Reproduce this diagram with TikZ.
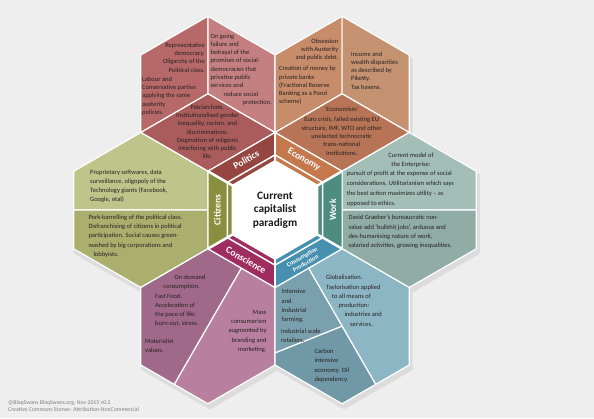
\documentclass[tikz,border=0pt]{standalone}
\usepackage{fontspec}
\setmainfont{Carlito}
\usetikzlibrary{calc}
\definecolor{bgc}{RGB}{238,238,238}
\definecolor{shadowc}{RGB}{220,220,220}
\definecolor{txtc}{RGB}{40,34,34}
\definecolor{polA}{RGB}{183,104,104}
\definecolor{polB}{RGB}{196,128,128}
\definecolor{polC}{RGB}{170,92,92}
\definecolor{polband}{RGB}{150,70,64}
\definecolor{ecoA}{RGB}{199,140,105}
\definecolor{ecoB}{RGB}{196,146,112}
\definecolor{ecoC}{RGB}{183,116,86}
\definecolor{ecoband}{RGB}{196,120,76}
\definecolor{citA}{RGB}{190,196,138}
\definecolor{citB}{RGB}{170,175,110}
\definecolor{citband}{RGB}{137,143,62}
\definecolor{workA}{RGB}{162,190,182}
\definecolor{workB}{RGB}{143,173,165}
\definecolor{workband}{RGB}{78,140,128}
\definecolor{prodA}{RGB}{123,160,173}
\definecolor{prodB}{RGB}{141,182,196}
\definecolor{prodC}{RGB}{112,152,166}
\definecolor{prodband}{RGB}{72,144,175}
\definecolor{conA}{RGB}{160,105,138}
\definecolor{conB}{RGB}{184,128,158}
\definecolor{conband}{RGB}{160,45,95}
\newcommand\mkhex[3]{%
  \coordinate (#1) at (#2,#3);
  \coordinate (#1-t) at (#2,#3-77.5);
  \coordinate (#1-ur) at (#2+67.1,#3-38.75);
  \coordinate (#1-lr) at (#2+67.1,#3+38.75);
  \coordinate (#1-b) at (#2,#3+77.5);
  \coordinate (#1-ll) at (#2-67.1,#3+38.75);
  \coordinate (#1-ul) at (#2-67.1,#3-38.75);
  \coordinate (#1-l) at (#2-67.1,#3);
  \coordinate (#1-r) at (#2+67.1,#3);
}
\newcommand\hexR[3]{(#1,#2-#3) -- (#1+0.8660254*#3,#2-0.5*#3) -- (#1+0.8660254*#3,#2+0.5*#3) -- (#1,#2+#3) -- (#1-0.8660254*#3,#2+0.5*#3) -- (#1-0.8660254*#3,#2-0.5*#3) -- cycle}
\tikzset{
  region/.style={draw=white, line width=1.2pt, line join=round},
  shadowhex/.style={fill=shadowc, draw=shadowc, line width=3pt, line join=round},
  body/.style={font=\fontsize{6.5}{8.3}\selectfont, text=txtc, inner sep=0pt},
  bodyw/.style={font=\fontsize{6.5}{9.3}\selectfont, text=txtc, inner sep=0pt},
  bandlabel/.style={font=\fontsize{9.6}{10}\selectfont\bfseries, text=white, inner sep=0pt},
}
\begin{document}
\begin{tikzpicture}[x=1pt,y=-1pt]
\fill[bgc] (0,0) rectangle (594,418);
\useasboundingbox (0,0) rectangle (594,418);
\mkhex{C0}{275}{210}
\mkhex{P}{207.9}{93.75}
\mkhex{E}{342.1}{93.75}
\mkhex{W}{409.2}{210}
\mkhex{Pr}{342.1}{326.25}
\mkhex{Co}{207.9}{326.25}
\mkhex{Ci}{140.8}{210}
% shadows
\begin{scope}[shift={(2,4)}]
\path[shadowhex] \hexR{207.9}{93.75}{77.5};
\path[shadowhex] \hexR{342.1}{93.75}{77.5};
\path[shadowhex] \hexR{409.2}{210}{77.5};
\path[shadowhex] \hexR{342.1}{326.25}{77.5};
\path[shadowhex] \hexR{207.9}{326.25}{77.5};
\path[shadowhex] \hexR{140.8}{210}{77.5};
\end{scope}
% Politics
\path[region, fill=polA] (P-t) -- (P) -- (P-ll) -- (P-ul) -- cycle;
\path[region, fill=polB] (P-t) -- (P-ur) -- (P-lr) -- (P) -- cycle;
\path[region, fill=polC] (P) -- (P-lr) -- (P-b) -- (P-ll) -- cycle;
% Economy
\path[region, fill=ecoA] (E-t) -- (E) -- (E-ll) -- (E-ul) -- cycle;
\path[region, fill=ecoB] (E-t) -- (E-ur) -- (E-lr) -- (E) -- cycle;
\path[region, fill=ecoC] (E) -- (E-lr) -- (E-b) -- (E-ll) -- cycle;
% Citizens
\path[region, fill=citA] (Ci-l) -- (Ci-ul) -- (Ci-t) -- (Ci-ur) -- (Ci-r) -- cycle;
\path[region, fill=citB] (Ci-l) -- (Ci-r) -- (Ci-lr) -- (Ci-b) -- (Ci-ll) -- cycle;
% Work
\path[region, fill=workA] (W-l) -- (W-ul) -- (W-t) -- (W-ur) -- (W-r) -- cycle;
\path[region, fill=workB] (W-l) -- (W-r) -- (W-lr) -- (W-b) -- (W-ll) -- cycle;
% Conscience
\coordinate (Co-m1) at ($(Co-t)!0.5!(Co-ur)$);
\coordinate (Co-m2) at ($(Co-ll)!0.5!(Co-b)$);
\path[region, fill=conA] (Co-m1) -- (Co-t) -- (Co-ul) -- (Co-ll) -- (Co-m2) -- cycle;
\path[region, fill=conB] (Co-m1) -- (Co-ur) -- (Co-lr) -- (Co-b) -- (Co-m2) -- cycle;
% Production
\coordinate (Pr-m1) at ($(Pr-ul)!0.5!(Pr-t)$);
\coordinate (Pr-m2) at ($(Pr-lr)!0.5!(Pr-b)$);
\coordinate (Pr-q) at (275,353);
\path[region, fill=prodB] (Pr-m1) -- (Pr-t) -- (Pr-ur) -- (Pr-lr) -- (Pr-m2) -- cycle;
\path[region, fill=prodA] (Pr-m1) -- (Pr-ul) -- (Pr-q) -- (Pr) -- cycle;
\path[region, fill=prodC] (Pr-q) -- (Pr-ll) -- (Pr-b) -- (Pr-m2) -- (Pr) -- cycle;
% centre bands
\fill[polband] (C0) -- (C0-ul) -- (C0-t) -- cycle;
\fill[ecoband] (C0) -- (C0-t) -- (C0-ur) -- cycle;
\fill[workband] (C0) -- (C0-ur) -- (C0-lr) -- cycle;
\fill[prodband] (C0) -- (C0-lr) -- (C0-b) -- cycle;
\fill[conband] (C0) -- (C0-b) -- (C0-ll) -- cycle;
\fill[citband] (C0) -- (C0-ll) -- (C0-ul) -- cycle;
\draw[white, line width=1.2pt, line join=round] (C0-t) -- (C0-ur) -- (C0-lr) -- (C0-b) -- (C0-ll) -- (C0-ul) -- cycle;
\draw[white, line width=1.5pt] \hexR{275}{210}{55.1};
\foreach \v in {t,ur,lr,b,ll,ul} \draw[white, line width=2.5pt] (C0-\v) -- (C0);
\fill[white] \hexR{275}{210}{50};
% centre text
\node[font=\fontsize{11.3}{13.6}\selectfont\bfseries, text=black!90, align=center, inner sep=0pt] (title) at (C0) {Current\\capitalist\\paradigm};
% band labels
\node[bandlabel, rotate=30] (lpol) at (246.1,159.9) {Politics};
\node[bandlabel, rotate=-30] (leco) at (303.9,159.9) {Economy};
\node[bandlabel, rotate=90] (lwork) at (332.8,210) {Work};
\node[bandlabel, rotate=30, font=\fontsize{6.2}{7}\selectfont\bfseries, align=center] (lprod) at (303.9,260.1) {Consumption\\Production};
\node[bandlabel, rotate=-30] (lcon) at (246.1,260.1) {Conscience};
\node[bandlabel, rotate=90] (lcit) at (217.2,210) {Citizens};
% Politics texts
\node[body, anchor=east, align=right] (p1) at (205,57.5) {Representative\\democracy.\\Oligarchy of the\\Political class.};
\node[body, anchor=west, align=left] (p2) at (142,96) {Labour and\\Conservative parties\\applying the same\\austerity\\policies.};
\node[body, anchor=west, align=left] (p3) at (210.5,69.5) {On going\\failure and\\betrayal of the\\promises of social-\\democracies that\\privatise public\\services and\\\hspace*{13pt}reduce social\\\hspace*{32pt}protection.};
\node[body, align=center] (p4) at (207.5,131.8) {Patriarchate.\\Institutionalised gender\\inequality, racism, and\\discriminations.\\Dogmatism of religions\\interfering with public\\life.};
% Economy texts
\node[body, anchor=east, align=right] (e1) at (338.5,49.8) {Obsession\\with Austerity\\and public debt.};
\node[body, anchor=west, align=left] (e2) at (279,85.5) {Creation of money by\\private banks\\(Fractional Reserve\\Banking as a Ponzi\\scheme)};
\node[body, anchor=west, align=left] (e3) at (351,70.4) {Income and\\wealth disparities\\as described by\\Piketty.\\Tax havens.};
\node[body, align=center] (e4) at (341.7,131.2) {‘Economism’\\[1.7pt]Euro crisis, failed existing EU\\structure, IMF, WTO and other\\unelected technocratic\\trans-national\\Institutions.};
% Citizens texts
\node[bodyw, anchor=west, align=left] (c1) at (90,186.3) {Proprietary softwares, data\\surveillance, oligopoly of the\\Technology giants (Facebook,\\Google, etal)};
\node[bodyw, anchor=west, align=left] (c2) at (88.3,236) {Pork-barrelling of the political class.\\Disfranchising of citizens in political\\participation. Social causes green-\\washed by big corporations and\\\hspace*{5pt}lobbyists.};
% Work texts
\node[bodyw, align=center] (w0) at (411,160.5) {Current model of\\the Enterprise:};
\node[bodyw, anchor=west, align=left, font=\fontsize{6.5}{9.7}\selectfont] (w1) at (346.7,188.8) {pursuit of profit at the expense of social\\considerations. Utilitarianism which says\\the best action maximizes utility – as\\opposed to ethics.};
\node[bodyw, anchor=west, align=left] (w2) at (348.3,232) {David Graeber’s bureaucratic non-\\value add ‘bullshit jobs’, arduous and\\des-humanising nature of work,\\salaried activities, growing inequalities.};
% Conscience texts
\node[bodyw] (k0) at (190,277.3) {On demand};
\node[bodyw] (k1) at (181.5,286.7) {consumption.};
\node[bodyw, anchor=west, align=left] (k2) at (155,310.2) {Fast Food.\\Acceleration of\\the pace of life:\\burn-out, stress.};
\node[bodyw, anchor=west, align=left] (k3) at (145,345.5) {Materialist\\values.};
\node[bodyw, anchor=east, align=right] (k4) at (266.7,331.3) {Mass\\consumerism\\augmented by\\branding and\\marketing.};
% Production texts
\node[bodyw, anchor=west, align=left] (r1) at (281.5,306.1) {Intensive\\and\\industrial\\farming.};
\node[bodyw, anchor=west, align=left] (r2) at (281,335.5) {Industrial scale\\retailers.};
\node[bodyw, anchor=west, align=left] (r3) at (326,300.8) {Globalisation.\\Taylorisation applied\\\hspace*{5.7pt}to all means of\\\hspace*{12.3pt}production:\\\hspace*{18.3pt}industries and\\\hspace*{24pt}services.};
\node[bodyw, anchor=west, align=left] (r4) at (314.3,365.8) {Carbon\\intensive\\economy. Oil\\dependency.};
% footer
\node[anchor=west, align=left, inner sep=0pt, font=\fontsize{5.8}{6.7}\selectfont, text=black!50] (foot) at (8,406) {@BlaqSwans BlaqSwans.org, Nov 2015 v0.2\\Creative Commons license: Attribution-NonCommercial};
\end{tikzpicture}
\end{document}
